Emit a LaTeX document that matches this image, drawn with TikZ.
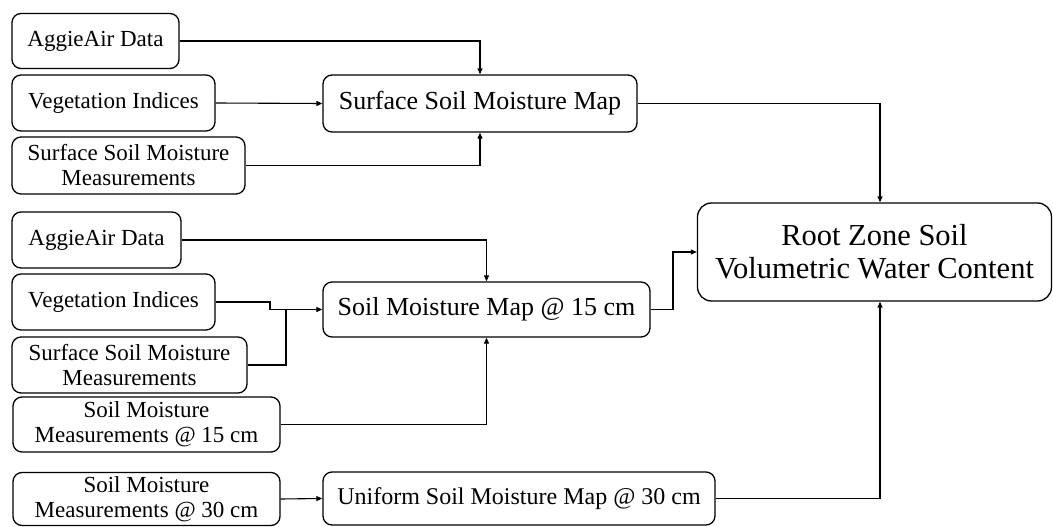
\documentclass[tikz,border=0pt]{standalone}
\usepackage{fontspec}
\setmainfont{Liberation Serif}
\usetikzlibrary{arrows.meta,calc}
\begin{document}
\begin{tikzpicture}[x=1pt,y=-1pt,
  box/.style={draw, line width=1.3pt, rounded corners=9pt, inner sep=0pt, align=center},
  lbox/.style={box, font=\fontsize{23}{25}\selectfont},
  mbox/.style={box, font=\fontsize{26}{28}\selectfont},
  conn/.style={line width=1.1pt},
  arr/.style={conn, -{Triangle[length=6pt,width=5pt]}}]
\useasboundingbox (0,0) rectangle (1053,527);
% left column, group 1
\node[lbox, minimum width=167, minimum height=55] (a1) at (95.5,41) {AggieAir Data};
\node[lbox, minimum width=203, minimum height=56] (v1) at (113.5,103) {Vegetation Indices};
\node[lbox, minimum width=233, minimum height=57] (s1) at (128.5,165.5) {Surface Soil Moisture\\Measurements};
% left column, group 2
\node[lbox, minimum width=169, minimum height=56] (a2) at (96.5,240) {AggieAir Data};
\node[lbox, minimum width=203, minimum height=56] (v2) at (113.5,302) {Vegetation Indices};
\node[lbox, minimum width=235, minimum height=56] (s2) at (129.5,365) {Surface Soil Moisture\\Measurements};
\node[lbox, minimum width=267, minimum height=55] (m15) at (146.5,424.5) {Soil Moisture\\Measurements @ 15 cm};
% group 3
\node[lbox, minimum width=267, minimum height=53] (m30) at (146.5,499) {Soil Moisture\\Measurements @ 30 cm};
% middle column
\node[mbox, minimum width=314, minimum height=57] (sm1) at (480,103.5) {Surface Soil Moisture Map};
\node[mbox, minimum width=327, minimum height=55] (sm15) at (486.5,309.5) {Soil Moisture Map @ 15 cm};
\node[box, font=\fontsize{24}{26}\selectfont, minimum width=392, minimum height=53] (u30) at (519,498.5) {Uniform Soil Moisture Map @ 30 cm};
% result
\node[box, font=\fontsize{30.5}{33}\selectfont, minimum width=354, minimum height=98, rounded corners=14pt] (root) at (874.5,252) {Root Zone Soil\\Volumetric Water Content};
% helper coordinates
\coordinate (rx) at (880,0);
\coordinate (vx) at (270,0);
\coordinate (jx) at (286,0);
\coordinate (kx) at (673,0);
\coordinate (j) at (jx |- sm15.west);
% connectors
\draw[arr] (a1.east) -| (sm1.north);
\draw[arr] (v1.east) -- (sm1.west);
\draw[arr] (s1.east) -| (sm1.south);
\draw[arr] (sm1.east) -| (rx |- root.north);
\draw[arr] (a2.east) -| (sm15.north);
\draw[conn] (v2.east) -- (vx |- v2.east) -- (vx |- sm15.west);
\draw[arr] (vx |- sm15.west) -- (sm15.west);
\draw[conn] (s2.east) -| (j);
\draw[arr] (m15.east) -| (sm15.south);
\draw[arr] (sm15.east) -- (kx |- sm15.east) |- (root.west);
\draw[arr] (m30.east) -- (u30.west);
\draw[arr] (u30.east) -| (rx |- root.south);
\end{tikzpicture}
\end{document}
